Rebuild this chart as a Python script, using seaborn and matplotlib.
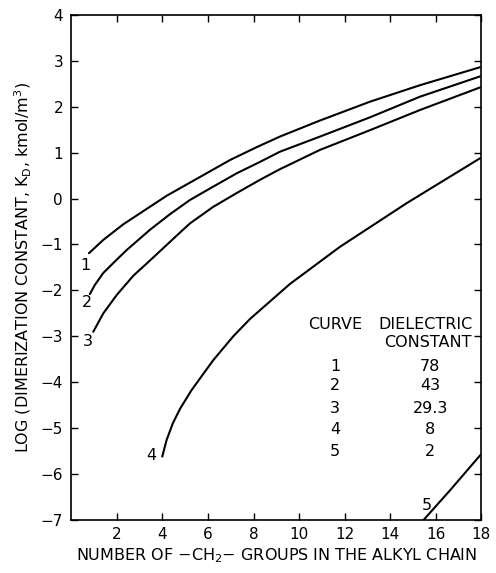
import matplotlib
matplotlib.use("Agg")
import matplotlib.pyplot as plt
import seaborn as sns
import pandas as pd

# ---- data ----
c1_x = [0.77, 1.40, 2.28, 4.18, 5.79, 6.97, 8.14, 9.16, 10.92, 13.12, 15.32, 17.95]
c1_y = [-1.19, -0.90, -0.56, 0.06, 0.51, 0.84, 1.12, 1.35, 1.70, 2.11, 2.47, 2.86]

c2_x = [0.81, 1.03, 1.40, 1.99, 2.43, 3.45, 4.33, 5.21, 6.23, 7.26, 8.29, 9.16, 10.92, 13.12, 15.32, 17.95]
c2_y = [-2.08, -1.88, -1.62, -1.33, -1.12, -0.68, -0.34, -0.03, 0.26, 0.55, 0.80, 1.02, 1.35, 1.77, 2.22, 2.66]

c3_x = [0.96, 1.40, 1.99, 2.72, 3.60, 4.77, 5.21, 6.23, 7.26, 8.29, 9.16, 10.92, 13.12, 15.32, 17.95]
c3_y = [-2.90, -2.50, -2.10, -1.68, -1.28, -0.74, -0.54, -0.18, 0.12, 0.41, 0.64, 1.06, 1.49, 1.93, 2.42]

c4_x = [3.99, 4.18, 4.45, 4.77, 5.28, 6.23, 7.11, 7.85, 9.60, 11.80, 14.73, 17.96]
c4_y = [-5.62, -5.26, -4.90, -4.58, -4.17, -3.52, -3.00, -2.62, -1.86, -1.05, -0.10, 0.88]

c5_x = [15.47, 16.64, 17.96]
c5_y = [-7.00, -6.35, -5.59]

curve_ids = ["1", "2", "3", "4", "5"]
dielectric = ["78", "43", "29.3", "8", "2"]

x_ticks = [2, 4, 6, 8, 10, 12, 14, 16, 18]
y_ticks = [-7, -6, -5, -4, -3, -2, -1, 0, 1, 2, 3, 4]

# curve label anchor positions (data coords)
lab_x = [0.60, 0.68, 0.73, 3.50, 15.62]
lab_y = [-1.45, -2.27, -3.12, -5.60, -6.68]

sns.set_style("ticks")
plt.rcParams['font.family'] = ['DejaVu Sans']
plt.rcParams['text.color'] = 'black'
plt.rcParams['axes.labelcolor'] = 'black'
plt.rcParams['xtick.color'] = 'black'
plt.rcParams['ytick.color'] = 'black'

FS = 11.5

fig = plt.figure(figsize=(4.96, 5.73), dpi=100)
ax = fig.add_axes([0.144, 0.0925, 0.826, 0.8815])

curves = [(c1_x, c1_y), (c2_x, c2_y), (c3_x, c3_y), (c4_x, c4_y), (c5_x, c5_y)]
for cx, cy in curves:
    df = pd.DataFrame({"x": cx, "y": cy})
    sns.lineplot(data=df, x="x", y="y", sort=False, color="black", lw=1.5, ax=ax)

ax.set_xlim(0, 18)
ax.set_ylim(-7, 4)
ax.set_xticks(x_ticks)
ax.set_yticks(y_ticks)
ax.set_yticklabels([str(v).replace("-", "\u2212") for v in y_ticks])
ax.tick_params(direction="in", top=True, right=True, length=5, width=1,
               labelsize=11, color="black", labelcolor="black")
ax.tick_params(axis="y", pad=6)
ax.tick_params(axis="x", pad=5)
for s in ax.spines.values():
    s.set_visible(True)
    s.set_color("black")
    s.set_linewidth(1.2)

ax.set_xlabel("NUMBER OF \u2212CH$_\\mathregular{2}$\u2212 GROUPS IN THE ALKYL CHAIN",
              fontsize=FS, labelpad=3, color="black")
ax.set_ylabel("LOG (DIMERIZATION CONSTANT, K$_\\mathregular{D}$, kmol/m$^\\mathregular{3}$)",
              fontsize=FS, labelpad=5, color="black")

for cid, lx, ly in zip(curve_ids, lab_x, lab_y):
    ax.text(lx, ly, cid, ha="center", va="center", fontsize=FS, color="black")

# legend table
ax.text(11.6, -2.75, "CURVE", ha="center", va="center", fontsize=FS, color="black")
ax.text(15.55, -2.75, "DIELECTRIC", ha="center", va="center", fontsize=FS, color="black")
ax.text(15.65, -3.14, "CONSTANT", ha="center", va="center", fontsize=FS, color="black")
row_y = [-3.65, -4.08, -4.57, -5.04, -5.51]
for cid, d, ry in zip(curve_ids, dielectric, row_y):
    ax.text(11.58, ry, cid, ha="center", va="center", fontsize=FS, color="black")
    ax.text(15.76, ry, d, ha="center", va="center", fontsize=FS, color="black")

fig.savefig("out.png", dpi=100)
